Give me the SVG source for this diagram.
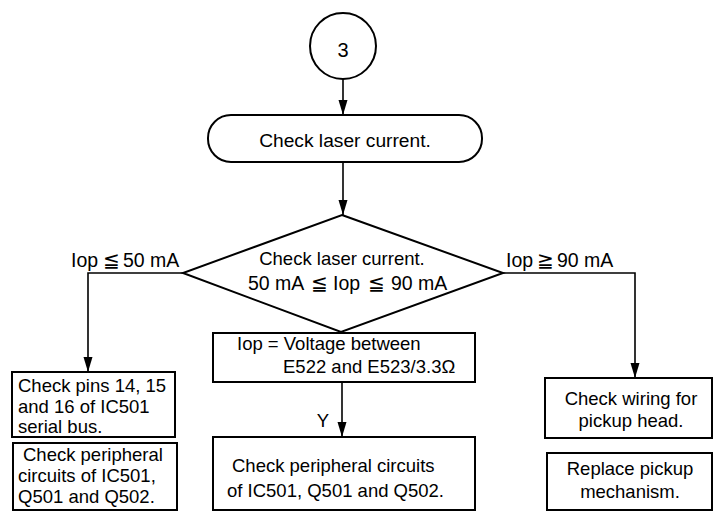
<svg xmlns="http://www.w3.org/2000/svg" width="725" height="513" viewBox="0 0 725 513">
<style>
  .shape { fill: #fff; stroke: #000; stroke-width: 2; }
  .line { fill: none; stroke: #000; stroke-width: 1.6; }
  text { font-family: "Liberation Sans", Arial, Helvetica, sans-serif; font-size: 18.5px; fill: #000; }
  .c { text-anchor: middle; }
  .lbl { font-size: 19.5px; }
</style>
<defs>
  <marker id="ah" markerUnits="userSpaceOnUse" markerWidth="16" markerHeight="10" refX="15" refY="4.5" orient="auto" viewBox="0 0 16 9">
    <path d="M0,0 L15,4.5 L0,9 Z" fill="#000"/>
  </marker>
</defs>

<g id="connectors">
  <line class="line" x1="343" y1="79" x2="343" y2="115" marker-end="url(#ah)"/>
  <line class="line" x1="343" y1="162" x2="343" y2="215" marker-end="url(#ah)"/>
  <polyline class="line" points="183,273 88,273 88,372" marker-end="url(#ah)"/>
  <polyline class="line" points="503,273 635,273 635,378" marker-end="url(#ah)"/>
  <line class="line" x1="342" y1="382" x2="342" y2="437" marker-end="url(#ah)"/>
  <text y="267" class="lbl"><tspan x="71">Iop</tspan><tspan x="103">≦</tspan><tspan x="123">50 mA</tspan></text>
  <text y="267" class="lbl"><tspan x="506">Iop</tspan><tspan x="537">≧</tspan><tspan x="557">90 mA</tspan></text>
  <text x="323" y="427" class="c">Y</text>
</g>

<g id="start">
  <circle class="shape" cx="343" cy="46" r="33"/>
  <text x="343" y="57" class="c" style="font-size:20px">3</text>
</g>

<g id="check-laser">
  <rect class="shape" x="208" y="115" width="274" height="47" rx="23" ry="23"/>
  <text x="345" y="147" class="c" style="font-size:19.2px">Check laser current.</text>
</g>

<g id="decision">
  <polygon class="shape" points="342,215 503,273 341,332 183,273"/>
  <text x="342" y="265" class="c">Check laser current.</text>
  <text y="290" class="lbl"><tspan x="248">50 mA</tspan><tspan x="311">≦</tspan><tspan x="333">Iop</tspan><tspan x="368">≦</tspan><tspan x="391">90 mA</tspan></text>
</g>

<g id="iop-voltage">
  <rect class="shape" x="213" y="333" width="262" height="49"/>
  <text x="237" y="350">Iop = Voltage between</text>
  <text x="283" y="373">E522 and E523/3.3Ω</text>
</g>

<g id="check-pins">
  <rect class="shape" x="12" y="372" width="163" height="65"/>
  <text x="18" y="392">Check pins 14, 15</text>
  <text x="18" y="413">and 16 of IC501</text>
  <text x="18" y="433">serial bus.</text>
</g>

<g id="check-peripheral-left">
  <rect class="shape" x="13" y="443" width="164" height="67"/>
  <text x="23" y="461">Check peripheral</text>
  <text x="18" y="482">circuits of IC501,</text>
  <text x="18" y="503">Q501 and Q502.</text>
</g>

<g id="check-peripheral-center">
  <rect class="shape" x="213" y="437" width="262" height="73"/>
  <text x="232" y="472">Check peripheral circuits</text>
  <text x="227" y="497">of IC501, Q501 and Q502.</text>
</g>

<g id="check-wiring">
  <rect class="shape" x="545" y="378" width="167" height="60"/>
  <text x="631" y="405" class="c">Check wiring for</text>
  <text x="631" y="427" class="c">pickup head.</text>
</g>

<g id="replace-pickup">
  <rect class="shape" x="547" y="453" width="165" height="57"/>
  <text x="630" y="475" class="c">Replace pickup</text>
  <text x="630" y="498" class="c">mechanism.</text>
</g>
</svg>
